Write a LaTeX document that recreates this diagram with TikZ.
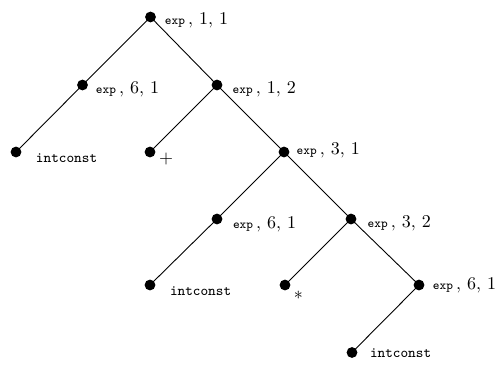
\documentclass[tikz,border=0pt]{standalone}
\begin{document}
\begin{tikzpicture}[x=0.5556pt,y=-0.5556pt,
  dot/.style={circle,fill=black,inner sep=0pt,minimum size=6pt},
  lab/.style={anchor=base west,inner sep=0pt,outer sep=0pt},
  edge/.style={line width=0.5pt}]
\useasboundingbox (0,0) rectangle (498,367);
\newcommand{\ex}[2]{$\texttt{\scriptsize exp}\,,\,#1,\,#2$}
\newcommand{\ic}{\texttt{\footnotesize intconst}}
\node[dot] (n1) at (150.5,17) {};
\node[dot] (n2) at (82.5,85) {};
\node[dot] (n3) at (217,85) {};
\node[dot] (n4) at (16,152) {};
\node[dot] (n5) at (150,152) {};
\node[dot] (n6) at (284,152) {};
\node[dot] (n7) at (217,219) {};
\node[dot] (n8) at (351,219) {};
\node[dot] (n9) at (150,285) {};
\node[dot] (n10) at (285,285) {};
\node[dot] (n11) at (419,285) {};
\node[dot] (n12) at (352,352.5) {};
\draw[edge] (n1.center) -- (n2.center);
\draw[edge] (n1.center) -- (n3.center);
\draw[edge] (n2.center) -- (n4.center);
\draw[edge] (n3.center) -- (n5.center);
\draw[edge] (n3.center) -- (n6.center);
\draw[edge] (n6.center) -- (n7.center);
\draw[edge] (n6.center) -- (n8.center);
\draw[edge] (n7.center) -- (n9.center);
\draw[edge] (n8.center) -- (n10.center);
\draw[edge] (n8.center) -- (n11.center);
\draw[edge] (n11.center) -- (n12.center);
\node[lab] (l1) at (165,25) {\ex{1}{1}};
\node[lab] (l2) at (96,94) {\ex{6}{1}};
\node[lab] (l3) at (232.7,94) {\ex{1}{2}};
\node[lab] (l4) at (36,162.3) {\ic};
\node[lab] (l5) at (159,163.5) {$+$};
\node[lab] (l6) at (296.7,155) {\ex{3}{1}};
\node[lab] (l7) at (233,229) {\ex{6}{1}};
\node[lab] (l8) at (367.7,228) {\ex{3}{2}};
\node[lab] (l9) at (170,295.7) {\ic};
\node[lab] (l10) at (294,299.5) {$*$};
\node[lab] (l11) at (433,290) {\ex{6}{1}};
\node[lab] (l12) at (370,357.3) {\ic};
\end{tikzpicture}
\end{document}
